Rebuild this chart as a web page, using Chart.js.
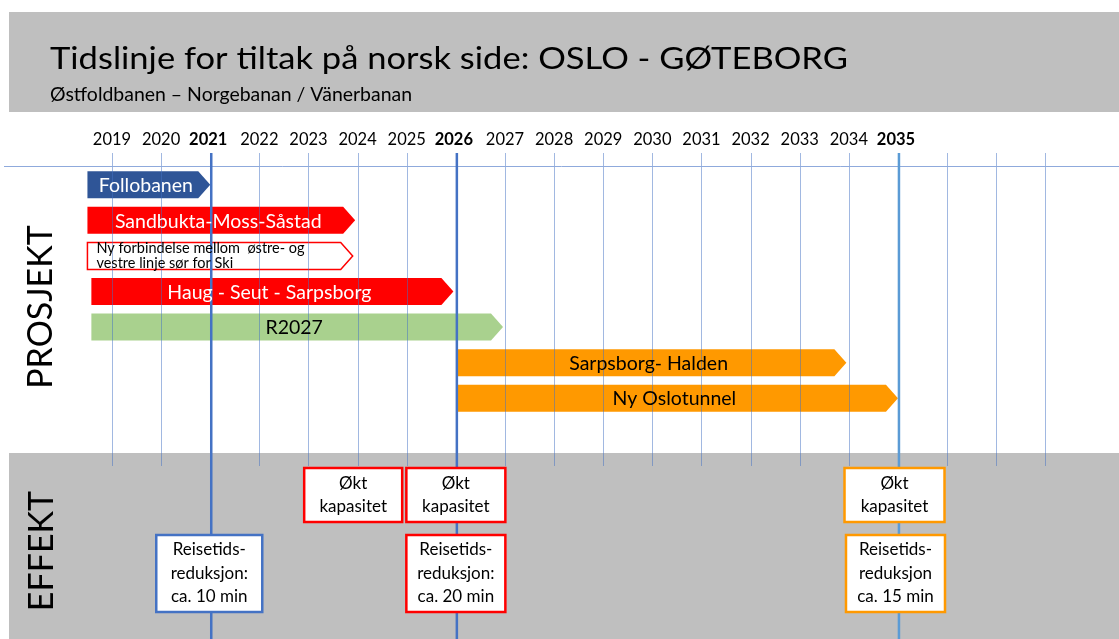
<!DOCTYPE html>
<html lang="no">
<head>
<meta charset="utf-8">
<title>Tidslinje for tiltak på norsk side</title>
<style>
    html, body { margin: 0; padding: 0; background: #fff; }
    #wrap { width: 1119px; height: 639px; }
</style>
</head>
<body>
<div id="wrap">
    <canvas id="timeline" width="1119" height="639"></canvas>
</div>
<script src="https://cdn.jsdelivr.net/npm/chart.js"></script>
<script>
    // prosjekter, en rad hver (ovenfra og ned)
    const projects = [
        'Follobanen',
        'Sandbukta-Moss-Såstad',
        'Ny forbindelse mellom  østre- og\nvestre linje sør for Ski',
        'Haug - Seut - Sarpsborg',
        'R2027',
        'Sarpsborg- Halden',
        'Ny Oslotunnel'
    ];
    const startYear = [2018.5, 2018.5, 2018.5, 2018.58, 2018.58, 2026.02, 2026.02];
    const endYear   = [2021.0, 2023.95, 2023.9, 2025.95, 2026.96, 2033.95, 2035.0];
    const barColor  = ['#2F5597', '#FF0000', '#FFFFFF', '#FF0000', '#A9D18E', '#FF9900', '#FF9900'];
    const barBorder = [null, null, '#FF0000', null, null, null, null];
    const textColor = ['#FFFFFF', '#FFFFFF', '#000000', '#FFFFFF', '#000000', '#000000', '#000000'];

    // årstall på tidslinja
    const yearLabels = ['2019', '2020', '2021', '2022', '2023', '2024', '2025', '2026', '2027',
                        '2028', '2029', '2030', '2031', '2032', '2033', '2034', '2035'];
    const boldYears = [2021, 2026, 2035];
    const gridYears = [2019, 2020, 2021, 2022, 2023, 2024, 2025, 2026, 2027, 2028,
                       2029, 2030, 2031, 2032, 2033, 2034, 2035, 2036, 2037, 2038];

    // effekter
    const effectText = [
        'Økt\nkapasitet',
        'Økt\nkapasitet',
        'Økt\nkapasitet',
        'Reisetids-\nreduksjon:\nca. 10 min',
        'Reisetids-\nreduksjon:\nca. 20 min',
        'Reisetids-\nreduksjon\nca. 15 min'
    ];
    const effectYear  = [2023.91, 2026.0, 2034.93, 2020.98, 2026.0, 2034.95];
    const effectRow   = [0, 0, 0, 1, 1, 1];
    const effectColor = ['#FF0000', '#FF0000', '#FF9900', '#4472C4', '#FF0000', '#FF9900'];

    const W = 1119, H = 639;
    const FONT = 'Lato, "Open Sans", sans-serif';

    // tekst som strekkes/krympes til ønsket bredde (Calibri-lignende)
    function fitText(ctx, text, x, y, size, width, weight) {
        ctx.font = (weight || 'normal') + ' ' + size + 'px ' + FONT;
        const w = ctx.measureText(text).width;
        ctx.save();
        ctx.translate(x, y);
        ctx.scale(width / w, 1);
        ctx.textAlign = 'left';
        ctx.textBaseline = 'alphabetic';
        ctx.fillText(text, 0, 0);
        ctx.restore();
    }

    const slidePlugin = {
        id: 'slide',
        beforeDraw(chart) {
            const ctx = chart.ctx;
            const xs = chart.scales.x;
            ctx.save();
            ctx.fillStyle = '#FFFFFF';
            ctx.fillRect(0, 0, W, H);
            // grå felt
            ctx.fillStyle = '#BFBFBF';
            ctx.fillRect(9, 12, W - 9, 100);
            ctx.fillRect(9, 453, W - 9, H - 453);

            ctx.fillStyle = '#000';
            fitText(ctx, 'Tidslinje for tiltak på norsk side: OSLO - GØTEBORG', 50, 69, 31, 798);
            fitText(ctx, 'Østfoldbanen – Norgebanan / Vänerbanan', 50, 101, 19.5, 362);

            // årstall
            ctx.textAlign = 'center';
            ctx.textBaseline = 'alphabetic';
            yearLabels.forEach(function (lbl) {
                const yr = Number(lbl);
                const bold = boldYears.indexOf(yr) >= 0;
                ctx.font = (bold ? 'bold ' : '') + '16.5px ' + FONT;
                ctx.fillText(lbl, xs.getPixelForValue(yr) - (bold ? 2 : 0), 145);
            });

            // loddrett tekst
            ctx.font = '34px ' + FONT;
            ctx.textAlign = 'center';
            [['PROSJEKT', 52, 307], ['EFFEKT', 53, 551]].forEach(function (t) {
                ctx.save();
                ctx.translate(t[1], t[2]);
                ctx.rotate(-Math.PI / 2);
                ctx.fillText(t[0], 0, 0);
                ctx.restore();
            });
            ctx.restore();
        },
        afterDatasetsDraw(chart) {
            const ctx = chart.ctx;
            const xs = chart.scales.x;
            const meta = chart.getDatasetMeta(0);
            ctx.save();

            // piler
            meta.data.forEach(function (bar, i) {
                const x0 = Math.min(bar.base, bar.x), x1 = Math.max(bar.base, bar.x);
                const h = bar.height, yc = bar.y;
                const tip = 12;
                ctx.beginPath();
                ctx.moveTo(x0, yc - h / 2);
                ctx.lineTo(x1 - tip, yc - h / 2);
                ctx.lineTo(x1, yc);
                ctx.lineTo(x1 - tip, yc + h / 2);
                ctx.lineTo(x0, yc + h / 2);
                ctx.closePath();
                ctx.fillStyle = barColor[i];
                ctx.fill();
                if (barBorder[i]) {
                    ctx.strokeStyle = barBorder[i];
                    ctx.lineWidth = 1.5;
                    ctx.stroke();
                }
            });

            // rutenett
            ctx.lineWidth = 1;
            ctx.strokeStyle = 'rgba(68,114,196,0.5)';
            gridYears.forEach(function (yr) {
                if (boldYears.indexOf(yr) >= 0) return;
                const px = Math.round(xs.getPixelForValue(yr)) + 0.5;
                ctx.beginPath();
                ctx.moveTo(px, 153);
                ctx.lineTo(px, 466);
                ctx.stroke();
            });
            ctx.strokeStyle = '#8FAADC';
            ctx.beginPath();
            ctx.moveTo(4, 166.5);
            ctx.lineTo(W, 166.5);
            ctx.stroke();

            boldYears.forEach(function (yr) {
                const px = xs.getPixelForValue(yr) + 1;
                ctx.strokeStyle = yr === 2035 ? '#5B9BD5' : '#4472C4';
                ctx.lineWidth = 2.5;
                ctx.beginPath();
                ctx.moveTo(px, 153);
                ctx.lineTo(px, H);
                ctx.stroke();
            });

            // tekst på pilene
            ctx.textBaseline = 'middle';
            meta.data.forEach(function (bar, i) {
                const x0 = Math.min(bar.base, bar.x), x1 = Math.max(bar.base, bar.x);
                const lines = projects[i].split('\n');
                ctx.fillStyle = textColor[i];
                if (lines.length > 1) {
                    ctx.font = '14.5px ' + FONT;
                    ctx.textAlign = 'left';
                    lines.forEach(function (ln, k) {
                        ctx.fillText(ln, x0 + 9, bar.y + (k - (lines.length - 1) / 2) * 14.5);
                    });
                } else {
                    ctx.font = '19.5px ' + FONT;
                    ctx.textAlign = 'center';
                    ctx.fillText(lines[0], (x0 + x1) / 2 - 3, bar.y + 1);
                }
            });

            // effekt-bokser
            const rowTop = [468, 535], rowH = [54, 77];
            const boxW = [98, 99, 100, 106, 99, 99];
            effectText.forEach(function (txt, i) {
                const cx = xs.getPixelForValue(effectYear[i]);
                const r = effectRow[i];
                const left = cx - boxW[i] / 2, top = rowTop[r];
                ctx.fillStyle = '#FFFFFF';
                ctx.fillRect(left, top, boxW[i], rowH[r]);
                ctx.strokeStyle = effectColor[i];
                ctx.lineWidth = 2.5;
                ctx.strokeRect(left, top, boxW[i], rowH[r]);
                const lines = txt.split('\n');
                ctx.fillStyle = '#000';
                ctx.font = '17px ' + FONT;
                ctx.textAlign = 'center';
                ctx.textBaseline = 'middle';
                lines.forEach(function (ln, k) {
                    ctx.fillText(ln, cx, top + rowH[r] / 2 + (k - (lines.length - 1) / 2) * 23.5);
                });
            });
            ctx.restore();
        }
    };

    const chart = new Chart(document.getElementById('timeline'), {
        type: 'bar',
        data: {
            labels: projects,
            datasets: [{
                data: projects.map(function (p, i) { return [startYear[i], endYear[i]]; }),
                backgroundColor: 'rgba(0,0,0,0)',
                borderWidth: 0,
                barPercentage: 0.76,
                categoryPercentage: 1
            }]
        },
        options: {
            indexAxis: 'y',
            responsive: false,
            animation: false,
            layout: { padding: { top: 167, bottom: 223, left: 0, right: 0 } },
            scales: {
                x: { type: 'linear', min: 2016.72, max: 2039.5, display: false },
                y: { display: false }
            },
            plugins: {
                legend: { display: false },
                tooltip: { enabled: false }
            }
        },
        plugins: [slidePlugin]
    });
</script>
</body>
</html>
